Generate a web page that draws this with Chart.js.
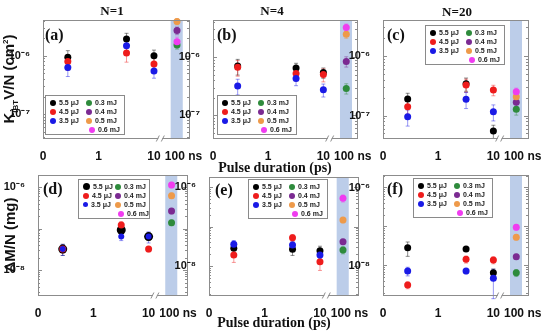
<!DOCTYPE html>
<html>
<head>
<meta charset="utf-8">
<script src="https://cdn.jsdelivr.net/npm/chart.js@4.4.1/dist/chart.umd.min.js"></script>
<style>
  body { margin: 0; background: #fff; }
  #wrap { position: relative; width: 550px; height: 334px; overflow: hidden; font-family: 'Liberation Sans', Arial, sans-serif; }
  canvas { position: absolute; }
  .txt { position: absolute; font-weight: bold; white-space: nowrap; color: #111; transform: translate(-50%, -50%); }
  .serif { font-family: 'Liberation Serif', 'Times New Roman', serif; }
  .rot { transform: translate(-50%, -50%) rotate(-90deg); }
  .tag { position: absolute; font: bold 16px 'Liberation Serif', 'Times New Roman', serif; color: #111; }
  .legend { position: absolute; height: 40px; border: 1px solid #8a8a8a; background: #fff; box-sizing: border-box; font: bold 7px 'Liberation Sans', Arial, sans-serif; color: #222; }
  .legend .it { position: absolute; white-space: nowrap; line-height: 8px; }
  .legend .dot { display: inline-block; border-radius: 50%; vertical-align: middle; margin-right: 3px; margin-top: -1px; }
</style>
</head>
<body>
<div id="wrap"></div>
<script>
// pulse durations (ps) of the three short-pulse points, and where the 100 ns point
// sits on the log axis past the break
const pulsePs = [0.28, 3.2, 10];
const nsPos = 26;
const xTickVals = [0.1, 1, 10, 34];
const xTickText = ['0', '1', '10', '100 ns'];

const uJLabels = ['5.5 μJ', '4.5 μJ', '3.5 μJ'];
const mJLabels = ['0.3 mJ', '0.4 mJ', '0.5 mJ', '0.6 mJ'];
const uJColors = ['#000000', '#ee1c1c', '#1a1ae6'];
const mJColors = ['#2e8b3c', '#7b2a92', '#ee9a4a', '#f03cf0'];

// (a) K_IBT V/N, N=1
const aUJ = [[0.94e-6, 1.94e-6, 1.0e-6], [0.80e-6, 1.11e-6, 0.72e-6], [0.63e-6, 1.49e-6, 0.55e-6]];
const aUJErr = [[0.3, 0.25, 0.25], [0.3, 0.3, 0.3], [0.3, 0.2, 0.25]];
const aMJ = [1.53e-6, 2.7e-6, 3.86e-6, 1.74e-6];
const aMJErr = [0.15, 0.15, 0.12, 0.2];

// (b) K_IBT V/N, N=4
const bUJ = [[0.70e-6, 0.65e-6, 0.54e-6], [0.67e-6, 0.52e-6, 0.50e-6], [0.32e-6, 0.43e-6, 0.275e-6]];
const bUJErr = [[0.3, 0.2, 0.2], [0.3, 0.25, 0.25], [0.3, 0.25, 0.25]];
const bMJ = [0.29e-6, 0.84e-6, 2.45e-6, 3.2e-6];
const bMJErr = [0.2, 0.2, 0.15, 0.15];

// (c) K_IBT V/N, N=20
const cUJ = [[1.89e-7, 3.4e-7, 0.55e-7], [1.41e-7, 3.26e-7, 2.68e-7], [0.95e-7, 1.87e-7, 1.16e-7]];
const cUJErr = [[0.25, 0.25, 0.25], [0.25, 0.25, 0.2], [0.3, 0.3, 0.3]];
const cMJ = [1.27e-7, 1.67e-7, 2.07e-7, 2.51e-7];
const cMJErr = [0.2, 0.15, 0.15, 0.15];

// (d) dM/N, N=1
const dUJ = [[3.2e-8, 9.2e-8, 6.4e-8], [3.2e-8, 1.21e-7, 3.2e-8], [3.2e-8, 6.4e-8, 6.4e-8]];
const dUJErr = [[0.3, 0.2, 0.2], [0.2, 0.2, 0.15], [0.3, 0.2, 0.3]];
const dMJ = [1.38e-7, 2.64e-7, 6.2e-7, 1.12e-6];
const dMJErr = [0.15, 0.15, 0.15, 0.15];

// (e) dM/N, N=4
const eUJ = [[2.8e-8, 2.65e-8, 2.44e-8], [1.9e-8, 5.2e-8, 1.29e-8], [3.54e-8, 3.4e-8, 1.9e-8]];
const eUJErr = [[0.25, 0.3, 0.3], [0.35, 0.2, 0.4], [0.25, 0.2, 0.2]];
const eMJ = [2.54e-8, 4.1e-8, 1.46e-7, 5.2e-7];
const eMJErr = [0.2, 0.15, 0.15, 0.2];

// (f) dM/N, N=20
const fUJ = [[2.86e-8, 2.65e-8, 6.5e-9], [3.16e-9, 1.44e-8, 1.38e-8], [7.2e-9, 7.2e-9, 4.7e-9]];
const fUJErr = [[0.4, 0.1, 0.25], [0.2, 0.2, 0.2], [0.25, 0.15, 0.7]];
const fMJ = [6.5e-9, 1.68e-8, 5.3e-8, 9.5e-8];
const fMJErr = [0.2, 0.15, 0.15, 0.15];

const panels = [
  { tag: '(a)', uj: aUJ, ujErr: aUJErr, mj: aMJ, mjErr: aMJErr, box: [42.5, 20, 188, 138], yr: [3.9e-8, 4.1e-6], yLab: [1e-6, 1e-7], leg: [45, 95, 80], tagPos: [45, 26] },
  { tag: '(b)', uj: bUJ, ujErr: bUJErr, mj: bMJ, mjErr: bMJErr, box: [212.7, 20, 357, 138], yr: [4.1e-8, 4.3e-6], yLab: [1e-6, 1e-7], leg: [217, 95, 80], tagPos: [217, 26] },
  { tag: '(c)', uj: cUJ, ujErr: cUJErr, mj: cMJ, mjErr: cMJErr, box: [382.7, 20, 528, 138], yr: [4.2e-8, 4.0e-6], yLab: [1e-6, 1e-7], leg: [425, 25, 80], tagPos: [387, 26] },
  { tag: '(d)', uj: dUJ, ujErr: dUJErr, mj: dMJ, mjErr: dMJErr, box: [38, 175, 187, 295], yr: [2.5e-9, 1.95e-6], yLab: [1e-6, 1e-8], leg: [78, 179, 72], tagPos: [43, 180], big: true },
  { tag: '(e)', uj: eUJ, ujErr: eUJErr, mj: eMJ, mjErr: eMJErr, box: [208.5, 177, 357, 295], yr: [1.85e-9, 1.79e-6], yLab: [1e-6, 1e-8], leg: [248, 179, 80], tagPos: [215, 181] },
  { tag: '(f)', uj: fUJ, ujErr: fUJErr, mj: fMJ, mjErr: fMJErr, box: [382.7, 175, 528, 295], yr: [1.75e-9, 2.09e-6], yLab: [1e-6, 1e-8], leg: [413, 178, 80], tagPos: [387, 180] }
];

const PX_PER_DECADE = 55.3;
const YW = 44, PT = 14, PR = 26, XH = 24;

const supDigits = { '0': '⁰', '1': '¹', '2': '²', '3': '³', '4': '⁴', '5': '⁵', '6': '⁶', '7': '⁷', '8': '⁸', '9': '⁹', '-': '⁻' };
function powLabel(v) {
  const e = String(Math.round(Math.log10(v)));
  return '10' + e.split('').map(c => supDigits[c]).join('');
}

const errorBars = {
  id: 'errorBars',
  beforeDatasetsDraw(chart) {
    const ctx = chart.ctx, ys = chart.scales.y;
    chart.data.datasets.forEach((ds, i) => {
      const meta = chart.getDatasetMeta(i);
      ctx.save();
      ctx.strokeStyle = ds.borderColor;
      ctx.globalAlpha = 0.45;
      ctx.lineWidth = 1;
      meta.data.forEach((pt, k) => {
        const v = ds.data[k].y, e = ds.errors[k];
        const y1 = ys.getPixelForValue(v * (1 + e));
        const y2 = ys.getPixelForValue(v * (1 - e));
        ctx.beginPath();
        ctx.moveTo(pt.x, y1); ctx.lineTo(pt.x, y2);
        ctx.moveTo(pt.x - 2, y1); ctx.lineTo(pt.x + 2, y1);
        ctx.moveTo(pt.x - 2, y2); ctx.lineTo(pt.x + 2, y2);
        ctx.stroke();
      });
      ctx.restore();
    });
  }
};

const panelFrame = {
  id: 'panelFrame',
  beforeDatasetsDraw(chart) {
    const { ctx, chartArea: a, scales: { x } } = chart;
    // shaded 100 ns region
    ctx.save();
    ctx.fillStyle = '#bccde9';
    const x1 = x.getPixelForValue(20), x2 = x.getPixelForValue(33);
    ctx.fillRect(x1, a.top, x2 - x1, a.bottom - a.top);
    ctx.restore();
  },
  afterDatasetsDraw(chart) {
    const { ctx, chartArea: a, scales: { x, y } } = chart;
    ctx.save();
    ctx.strokeStyle = '#8c8c8c';
    ctx.lineWidth = 1;
    ctx.strokeRect(Math.round(a.left) + 0.5, Math.round(a.top) + 0.5, Math.round(a.right - a.left), Math.round(a.bottom - a.top));
    ctx.beginPath();
    y.ticks.forEach(t => {
      const py = Math.round(y.getPixelForValue(t.value)) + 0.5;
      const len = t.major ? 4 : 2;
      ctx.moveTo(a.left, py); ctx.lineTo(a.left + len, py);
      ctx.moveTo(a.right, py); ctx.lineTo(a.right - len, py);
    });
    ctx.stroke();
    // axis break marks
    const bx = x.getPixelForValue(13), by = Math.round(a.bottom) + 0.5;
    ctx.fillStyle = '#fff';
    ctx.fillRect(bx - 2, by - 3, 4, 6);
    ctx.beginPath();
    ctx.moveTo(bx - 4, by + 3); ctx.lineTo(bx - 1, by - 3);
    ctx.moveTo(bx + 1, by + 3); ctx.lineTo(bx + 4, by - 3);
    ctx.stroke();
    ctx.restore();
  }
};

const wrap = document.getElementById('wrap');

function addText(html, x, y, cls, font) {
  const d = document.createElement('div');
  d.className = 'txt ' + cls;
  d.style.left = x + 'px';
  d.style.top = y + 'px';
  d.style.font = font;
  d.innerHTML = html;
  wrap.appendChild(d);
}

function radiusFor(p, i) {
  if (!p.big) return 3.5;
  return [4.5, 3.5, 3][i];
}

function makeDatasets(p) {
  const sets = [];
  p.uj.forEach((vals, i) => sets.push({
    label: uJLabels[i],
    data: vals.map((v, k) => ({ x: pulsePs[k], y: v })),
    errors: p.ujErr[i],
    backgroundColor: uJColors[i],
    borderColor: uJColors[i],
    pointRadius: radiusFor(p, i),
    pointBorderWidth: 0,
    order: 10 - i,
    clip: false
  }));
  p.mj.forEach((v, i) => sets.push({
    label: mJLabels[i],
    data: [{ x: nsPos, y: v }],
    errors: [p.mjErr[i]],
    backgroundColor: mJColors[i],
    borderColor: mJColors[i],
    pointRadius: 3.5,
    pointBorderWidth: 0,
    order: 6 - i,
    clip: false
  }));
  return sets;
}

function makeLegend(p, sets) {
  const box = document.createElement('div');
  box.className = 'legend';
  box.style.left = p.leg[0] + 'px';
  box.style.top = p.leg[1] + 'px';
  box.style.width = p.leg[2] + 'px';
  const col2 = p.leg[2] * 0.5;
  sets.forEach((ds, i) => {
    const isMJ = i >= 3;
    const row = isMJ ? i - 3 : i;
    const it = document.createElement('div');
    it.className = 'it';
    it.style.left = (isMJ ? col2 + (row === 3 ? 3 : 0) : 4) + 'px';
    it.style.top = (3 + row * 9) + 'px';
    const dsz = Math.round(ds.pointRadius * 1.6);
    it.innerHTML = '<span class="dot" style="width:' + dsz + 'px;height:' + dsz + 'px;background:' + ds.backgroundColor + '"></span>' + ds.label;
    box.appendChild(it);
  });
  wrap.appendChild(box);
}

panels.forEach(p => {
  const [l, t, r, b] = p.box;
  const cv = document.createElement('canvas');
  const w = Math.round(r - l + YW + PR), h = Math.round(b - t + PT + XH);
  cv.width = w; cv.height = h;
  cv.style.left = (l - YW) + 'px';
  cv.style.top = (t - PT) + 'px';
  wrap.appendChild(cv);

  const sets = makeDatasets(p);
  new Chart(cv.getContext('2d'), {
    type: 'scatter',
    data: { datasets: sets },
    options: {
      responsive: false,
      animation: false,
      devicePixelRatio: 1,
      layout: { padding: { top: PT, right: PR, left: 0, bottom: 0 } },
      plugins: { legend: { display: false }, tooltip: { enabled: false } },
      scales: {
        x: {
          type: 'logarithmic',
          min: 0.1,
          max: 0.1 * Math.pow(10, (r - l) / PX_PER_DECADE),
          grid: { display: false },
          border: { display: false },
          afterBuildTicks: s => { s.ticks = xTickVals.map(v => ({ value: v })); },
          afterFit: s => { s.height = XH; },
          ticks: {
            autoSkip: false, maxRotation: 0, padding: 3,
            color: '#111',
            font: { family: "'Liberation Sans', Arial, sans-serif", size: 12, weight: 'bold' },
            callback: v => xTickText[xTickVals.indexOf(v)]
          }
        },
        y: {
          type: 'logarithmic',
          min: p.yr[0],
          max: p.yr[1],
          grid: { display: false },
          border: { display: false },
          afterBuildTicks: s => {
            const out = [];
            for (let e = -10; e <= -4; e++) {
              for (let m = 1; m < 10; m++) {
                const v = m * Math.pow(10, e);
                if (v >= s.min && v <= s.max) out.push({ value: v, major: m === 1 });
              }
            }
            s.ticks = out;
          },
          afterFit: s => { s.width = YW; },
          ticks: {
            autoSkip: false, padding: 5,
            color: '#111',
            font: { family: "'Liberation Sans', Arial, sans-serif", size: 11, weight: 'bold' },
            callback: v => p.yLab.some(q => Math.abs(q - v) / q < 1e-6) ? powLabel(v) : ''
          }
        }
      }
    },
    plugins: [panelFrame, errorBars]
  });

  makeLegend(p, sets);
  const tg = document.createElement('div');
  tg.className = 'tag';
  tg.style.left = p.tagPos[0] + 'px';
  tg.style.top = p.tagPos[1] + 'px';
  tg.textContent = p.tag;
  wrap.appendChild(tg);
});

const serifTitle = "bold 13px 'Liberation Serif', 'Times New Roman', serif";
addText('N=1', 112, 11, 'serif', serifTitle);
addText('N=4', 272, 11, 'serif', serifTitle);
addText('N=20', 457, 12, 'serif', serifTitle);
const axisTitle = "bold 14px 'Liberation Serif', 'Times New Roman', serif";
addText('Pulse duration (ps)', 275, 168, 'serif', axisTitle);
addText('Pulse duration (ps)', 274, 323, 'serif', axisTitle);
const yFont = "bold 15px 'Liberation Sans', Arial, sans-serif";
addText('K<sub style="font-size:8px">IBT</sub>V/N (cm<sup style="font-size:8px">2</sup>)', 10, 79, 'rot', yFont);
addText('ΔM/N (mg)', 9, 235, 'rot', yFont);
</script>
</body>
</html>
